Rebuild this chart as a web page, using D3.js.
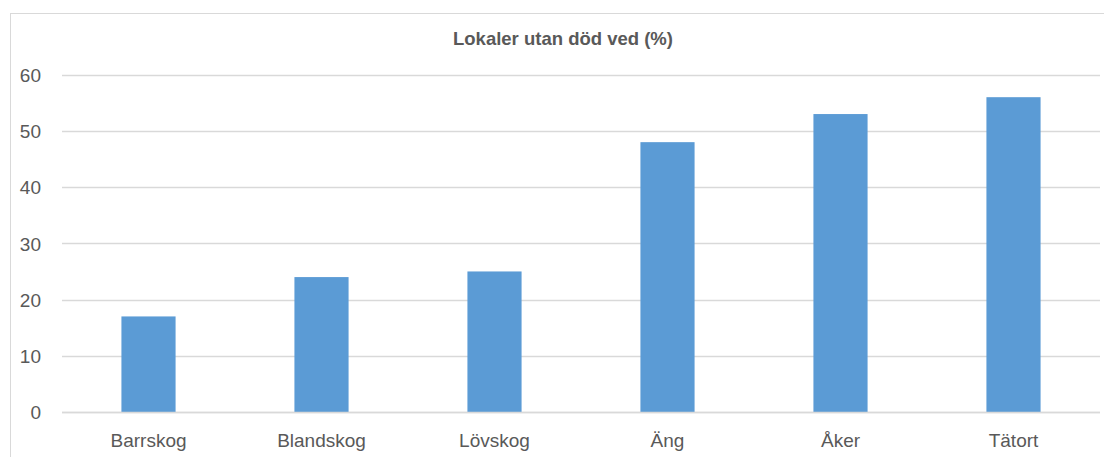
<!DOCTYPE html>
<html>
<head>
<meta charset="utf-8">
<script src="https://cdn.jsdelivr.net/npm/d3@7"></script>
<style>
  html, body { margin: 0; padding: 0; background: #fff; }
  svg { display: block; }
</style>
</head>
<body>
<svg id="chart" width="1104" height="457"></svg>
<script>
const title = "Lokaler utan död ved (%)";
const categories = ["Barrskog", "Blandskog", "Lövskog", "Äng", "Åker", "Tätort"];
const values = [17, 24, 25, 48, 53, 56];
const yTicks = [0, 10, 20, 30, 40, 50, 60];

const svg = d3.select("#chart");
const W = 1104, H = 457;
const font = "'Liberation Sans', Arial, sans-serif";

// chart frame border
svg.append("rect")
  .attr("x", 10.5).attr("y", 13.5)
  .attr("width", 1120).attr("height", 470)
  .attr("fill", "#fff").attr("stroke", "#d9d9d9").attr("stroke-width", 1);

const plot = { left: 62, right: 1100, top: 74.7, bottom: 412 };

const x = d3.scaleBand()
  .domain(categories)
  .range([plot.left, plot.right])
  .paddingInner(0.687)
  .paddingOuter(0.3435);

const y = d3.scaleLinear().domain([0, 60]).range([plot.bottom, plot.top]);

// gridlines
svg.append("g")
  .selectAll("line")
  .data(yTicks)
  .join("line")
  .attr("x1", plot.left).attr("x2", plot.right)
  .attr("y1", d => Math.round(y(d)) + 0.5).attr("y2", d => Math.round(y(d)) + 0.5)
  .attr("stroke", "#d9d9d9").attr("stroke-width", 1.3);

// y axis labels
const yAxis = d3.axisLeft(y).tickValues(yTicks).tickSize(0).tickPadding(0);
const yg = svg.append("g").attr("transform", "translate(41,0)").call(yAxis);
yg.select(".domain").remove();
yg.selectAll("text")
  .attr("font-family", font).attr("font-size", 19).attr("fill", "#595959")
  .attr("dy", "0.35em");

// bars
svg.append("g")
  .selectAll("rect")
  .data(values)
  .join("rect")
  .attr("x", (d, i) => x(categories[i]))
  .attr("width", x.bandwidth())
  .attr("y", d => y(d))
  .attr("height", d => y(0) - y(d))
  .attr("fill", "#5b9bd5");

// baseline on top of bars
svg.append("line")
  .attr("x1", plot.left).attr("x2", plot.right)
  .attr("y1", Math.round(y(0)) + 0.5).attr("y2", Math.round(y(0)) + 0.5)
  .attr("stroke", "#d9d9d9").attr("stroke-width", 1.3);

// x axis labels
const xAxis = d3.axisBottom(x).tickSize(0).tickPadding(0);
const xg = svg.append("g").attr("transform", "translate(0,440)").call(xAxis);
xg.select(".domain").remove();
xg.selectAll("text")
  .attr("font-family", font).attr("font-size", 19).attr("fill", "#595959")
  .attr("dy", "0.35em");

// title
svg.append("text")
  .attr("x", 563).attr("y", 45)
  .attr("text-anchor", "middle")
  .attr("font-family", font).attr("font-size", 18.5).attr("font-weight", "bold")
  .attr("fill", "#595959")
  .text(title);
</script>
</body>
</html>
